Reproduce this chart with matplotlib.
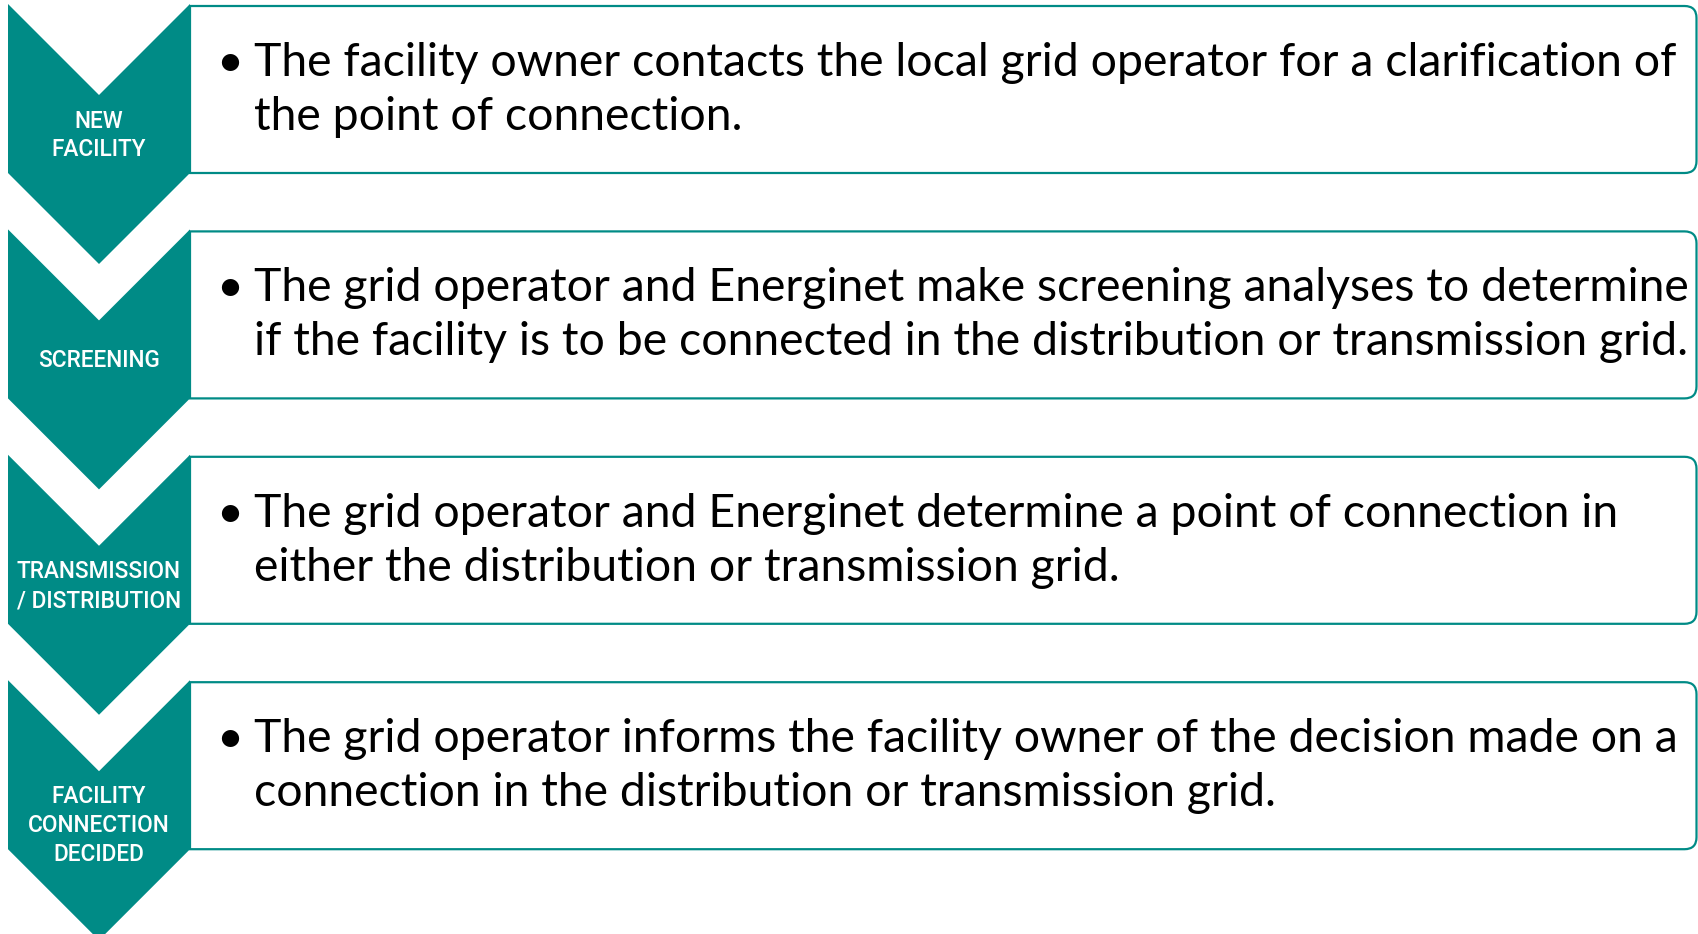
import matplotlib
matplotlib.use("Agg")
import matplotlib.pyplot as plt
from matplotlib.patches import Polygon, PathPatch
from matplotlib.path import Path

# steps of the process and the bullet text next to each one
steps = ["NEW\nFACILITY", "SCREENING", "TRANSMISSION\n/ DISTRIBUTION",
         "FACILITY\nCONNECTION\nDECIDED"]
descriptions = [
    ["The facility owner contacts the local grid operator for a clarification of",
     "the point of connection."],
    ["The grid operator and Energinet make screening analyses to determine",
     "if the facility is to be connected in the distribution or transmission grid."],
    ["The grid operator and Energinet determine a point of connection in",
     "either the distribution or transmission grid."],
    ["The grid operator informs the facility owner of the decision made on a",
     "connection in the distribution or transmission grid."],
]

teal = "#008B86"
body_font = "Lato"
label_font = "Roboto"

W, H = 1698, 934
fig = plt.figure(figsize=(W / 100, H / 100), dpi=100)
ax = fig.add_axes([0, 0, 1, 1])
ax.set_xlim(0, W)
ax.set_ylim(H, 0)
ax.axis("off")

# fit font sizes to the widths seen in the reference
renderer = fig.canvas.get_renderer()
probe = ax.text(0, 0, descriptions[1][1], fontsize=30, family=body_font)
body_size = 30 * 1433 / probe.get_window_extent(renderer).width
probe.remove()
probe = ax.text(0, 0, "TRANSMISSION", fontsize=18, family=label_font, weight="medium")
label_size = 18 * 164 / probe.get_window_extent(renderer).width
probe.remove()

step_y = 225.4
x0, x1 = 8, 190
xc = (x0 + x1) / 2
half = (x1 - x0) / 2
body = 169
right = 1696.5
r = 12
label_dy = [0, 0, 0, 14]

for i, (lab, desc) in enumerate(zip(steps, descriptions)):
    top = 4 + i * step_y
    bot = top + body
    # rounded box on the right
    bt = top + 2
    verts = [(x1, bt), (right - r, bt), (right, bt), (right, bt + r),
             (right, bot - r), (right, bot), (right - r, bot), (x1, bot), (x1, bt)]
    codes = [Path.MOVETO, Path.LINETO, Path.CURVE3, Path.CURVE3,
             Path.LINETO, Path.CURVE3, Path.CURVE3, Path.LINETO, Path.CLOSEPOLY]
    ax.add_patch(PathPatch(Path(verts, codes), facecolor="white", edgecolor=teal,
                           lw=1.6, zorder=1))
    # chevron
    pts = [(x0, top), (xc, top + half), (x1, top), (x1, bot),
           (xc, bot + half), (x0, bot)]
    ax.add_patch(Polygon(pts, closed=True, facecolor=teal, edgecolor="none", zorder=2))

    # label in chevron
    lines = lab.split("\n")
    mid = (top + half + bot) / 2 + label_dy[i]
    for j, ln in enumerate(lines):
        cy = mid + (j - (len(lines) - 1) / 2) * 29
        ax.text(xc, cy + 8, ln, color="white", fontsize=label_size, weight="medium",
                family=label_font, ha="center", va="baseline", zorder=3)

    # bullet text
    bmid = (bt + bot) / 2
    for j, ln in enumerate(desc):
        yb = bmid - 13.5 + j * 54
        if j == 0:
            ax.text(230, yb, "\u2022", fontsize=body_size, family=body_font,
                    ha="center", va="baseline", zorder=3)
        ax.text(254, yb, ln, fontsize=body_size, family=body_font,
                ha="left", va="baseline", zorder=3)

fig.savefig("out.png", dpi=100)
